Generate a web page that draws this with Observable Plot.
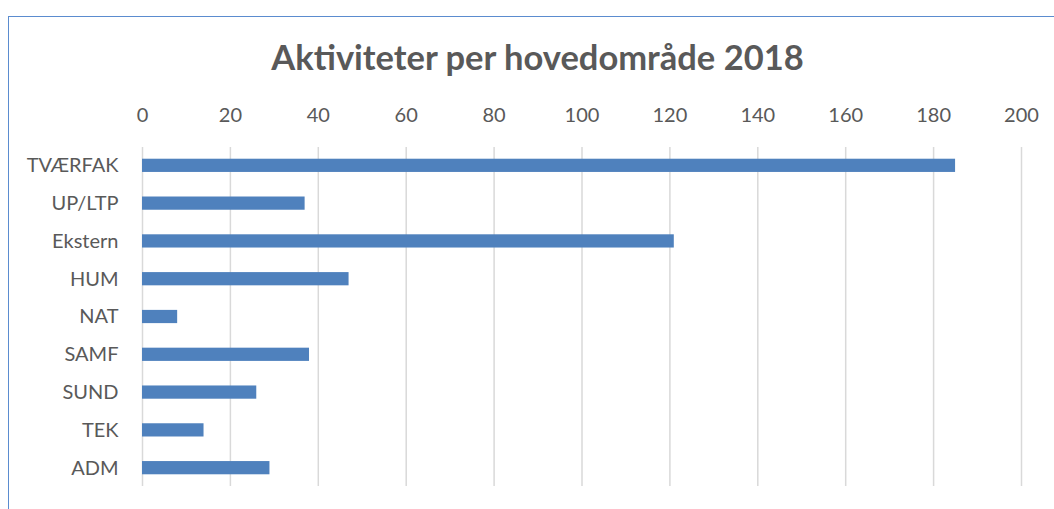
<!DOCTYPE html>
<html>
<head>
<meta charset="utf-8">
<script src="https://cdn.jsdelivr.net/npm/d3@7"></script>
<script src="https://cdn.jsdelivr.net/npm/@observablehq/plot@0.6"></script>
<style>
  html, body { margin: 0; padding: 0; background: #fff; }
  #wrap { position: relative; width: 1054px; height: 509px; overflow: hidden; font-family: Lato, "Open Sans", sans-serif; }
  #frame { position: absolute; left: 8px; top: 16px; width: 1100px; height: 600px; border: 1.5px solid #5b8ccf; box-sizing: border-box; }
  #title { position: absolute; left: 0; width: 1075px; top: 36px; text-align: center; font-size: 34.5px; font-weight: bold; color: #595959; }
  #chart { position: absolute; left: 0; top: 0; }
</style>
</head>
<body>
<div id="wrap">
  <div id="frame"></div>
  <div id="title">Aktiviteter per hovedområde 2018</div>
  <div id="chart"></div>
</div>
<script>
const categories = ["TVÆRFAK", "UP/LTP", "Ekstern", "HUM", "NAT", "SAMF", "SUND", "TEK", "ADM"];
const values = [185, 37, 121, 47, 8, 38, 26, 14, 29];
const xTicks = [0, 20, 40, 60, 80, 100, 120, 140, 160, 180, 200];

const data = categories.map((c, i) => ({category: c, value: values[i]}));

const plot = Plot.plot({
  width: 1054,
  height: 509,
  marginLeft: 142,
  marginRight: 33,
  marginTop: 147,
  marginBottom: 23,
  style: {fontFamily: "Lato, 'Open Sans', sans-serif", fontSize: "20px", color: "#595959", background: "transparent", overflow: "visible"},
  x: {domain: [0, 200], ticks: xTicks, axis: null},
  y: {domain: categories, paddingInner: 0.65, paddingOuter: 0.31, round: false, axis: null},
  marks: [
    Plot.gridX(xTicks, {stroke: "#d9d9d9", strokeOpacity: 1, strokeWidth: 1.5}),
    Plot.barX(data, {x: "value", y: "category", fill: "#4f81bd"}),
    Plot.axisX({anchor: "top", ticks: xTicks, tickSize: 0, tickPadding: 26, fill: "#595959", fontSize: 20, label: null}),
    Plot.axisY({anchor: "left", tickSize: 0, tickPadding: 24, fill: "#595959", fontSize: 20, label: null})
  ]
});
document.getElementById("chart").appendChild(plot);
</script>
</body>
</html>
